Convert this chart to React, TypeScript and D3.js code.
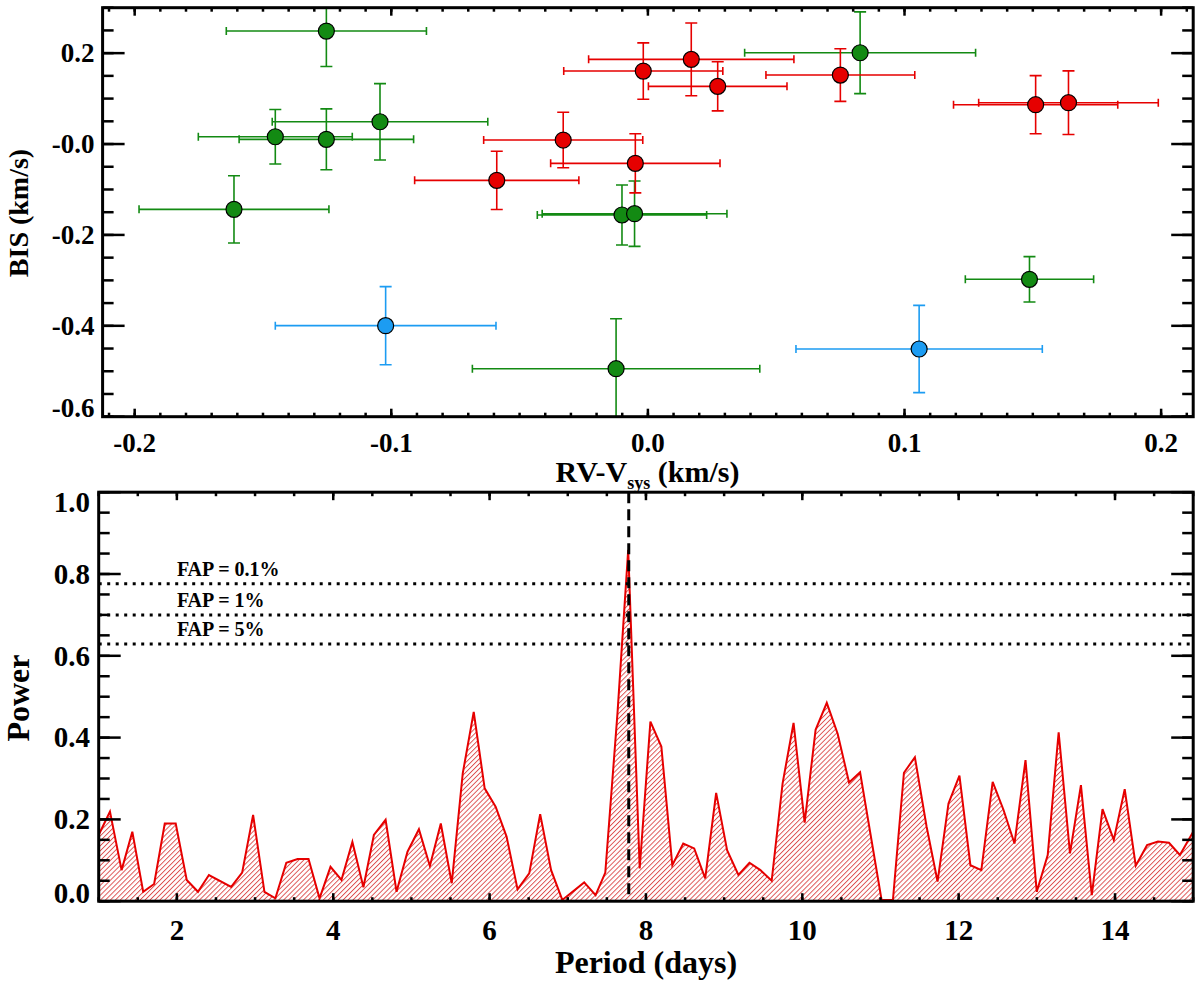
import * as d3 from "d3";
import { useEffect, useRef } from "react";

// BIS vs RV scatter, three observing groups
const GREEN_RV = [-0.1253, -0.1452, -0.1253, -0.1044, -0.1613, 0.0827, -0.0101, -0.0052, 0.1487, -0.0124];
const GREEN_RV_ERR = [0.039, 0.030, 0.034, 0.042, 0.037, 0.045, 0.033, 0.036, 0.025, 0.056];
const GREEN_BIS = [0.2486, 0.016, 0.0103, 0.049, -0.1437, 0.2009, -0.1562, -0.1533, -0.2977, -0.4944];
const GREEN_BIS_ERR = [0.078, 0.060, 0.067, 0.084, 0.074, 0.090, 0.066, 0.072, 0.050, 0.110];

const RED_RV = [-0.0589, -0.033, -0.0049, -0.0018, 0.0169, 0.0272, 0.075, 0.1511, 0.1639];
const RED_RV_ERR = [0.032, 0.031, 0.033, 0.031, 0.040, 0.027, 0.029, 0.032, 0.035];
const RED_BIS = [-0.0799, 0.0088, -0.0425, 0.1606, 0.1863, 0.1269, 0.1518, 0.0865, 0.0909];
const RED_BIS_ERR = [0.064, 0.061, 0.065, 0.062, 0.080, 0.054, 0.058, 0.064, 0.070];

const BLUE_RV = [-0.1022, 0.1057];
const BLUE_RV_ERR = [0.043, 0.048];
const BLUE_BIS = [-0.3997, -0.451];
const BLUE_BIS_ERR = [0.086, 0.096];

// periodogram
const PERIOD = [
  1.0, 1.144, 1.293, 1.43, 1.569, 1.709, 1.845, 1.985, 2.126, 2.27, 2.41, 2.695, 2.835, 2.975, 3.12,
  3.26, 3.4, 3.544, 3.684, 3.825, 3.965, 4.105, 4.245, 4.386, 4.52, 4.67, 4.81, 4.95, 5.096, 5.236,
  5.376, 5.516, 5.657, 5.797, 5.937, 6.077, 6.217, 6.358, 6.507, 6.647, 6.787, 6.93, 7.21, 7.356, 7.48,
  7.636, 7.773, 7.92, 8.057, 8.197, 8.337, 8.477, 8.617, 8.758, 8.898, 9.038, 9.183, 9.324, 9.464, 9.608,
  9.748, 9.888, 10.03, 10.17, 10.313, 10.453, 10.598, 10.739, 11.014, 11.159, 11.3, 11.44, 11.59, 11.73,
  11.87, 12.01, 12.15, 12.29, 12.435, 12.574, 12.714, 12.855, 12.999, 13.139, 13.279, 13.424, 13.564,
  13.703, 13.84, 13.984, 14.124, 14.265, 14.41, 14.55, 14.69, 14.83, 15.0,
];
const POWER = [
  0.162, 0.219, 0.076, 0.17, 0.023, 0.042, 0.19, 0.19, 0.052, 0.023, 0.064, 0.035, 0.07, 0.211, 0.023,
  0.007, 0.094, 0.103, 0.103, 0.007, 0.084, 0.052, 0.145, 0.034, 0.162, 0.199, 0.023, 0.121, 0.176, 0.086,
  0.19, 0.044, 0.313, 0.463, 0.276, 0.231, 0.158, 0.029, 0.068, 0.213, 0.076, 0.003, 0.046, 0.015, 0.07,
  0.46, 0.859, 0.08, 0.439, 0.378, 0.088, 0.141, 0.129, 0.056, 0.265, 0.125, 0.064, 0.094, 0.076, 0.05,
  0.288, 0.436, 0.192, 0.419, 0.485, 0.409, 0.29, 0.315, 0.003, 0.003, 0.314, 0.352, 0.182, 0.048,
  0.239, 0.307, 0.088, 0.076, 0.292, 0.223, 0.141, 0.345, 0.023, 0.113, 0.413, 0.117, 0.284,
  0.015, 0.225, 0.15, 0.274, 0.087, 0.137, 0.146, 0.143, 0.113, 0.17,
];
const FAP_LEVELS = [0.776, 0.7, 0.629];
const FAP_LABELS = ["FAP = 0.1%", "FAP = 1%", "FAP = 5%"];
const FAP_LABEL_PERIOD = 2.0;
const PEAK_PERIOD = 7.78;

// axes
const RV_TICKS = [-0.2, -0.1, 0.0, 0.1, 0.2];
const RV_LABELS = ["-0.2", "-0.1", "0.0", "0.1", "0.2"];
const BIS_TICKS = [0.2, 0.0, -0.2, -0.4, -0.6];
const BIS_LABELS = ["0.2", "-0.0", "-0.2", "-0.4", "-0.6"];
const PERIOD_TICKS = [2, 4, 6, 8, 10, 12, 14];
const POWER_TICKS = [0.0, 0.2, 0.4, 0.6, 0.8, 1.0];
const POWER_LABELS = ["0.0", "0.2", "0.4", "0.6", "0.8", "1.0"];

const FONT = "'Liberation Serif', 'Times New Roman', serif";

type Pt = { x: number; xe: number; y: number; ye: number };
const zip = (x: number[], xe: number[], y: number[], ye: number[]): Pt[] =>
  x.map((v, i) => ({ x: v, xe: xe[i], y: y[i], ye: ye[i] }));

function frame(g: any, x: any, y: any, xMajor: number[], xMinor: number[], yMajor: number[], yMinor: number[]) {
  const [x0, x1] = x.range();
  const [y0, y1] = y.range(); // bottom, top
  const t = g.append("g").attr("stroke", "#000").attr("stroke-width", 2.5);
  const xt = [...xMinor.map((v) => ({ v, l: 4 })), ...xMajor.map((v) => ({ v, l: 8 }))];
  const yt = [...yMinor.map((v) => ({ v, l: 11 })), ...yMajor.map((v) => ({ v, l: 22 }))];
  t.selectAll(null).data(xt).join("line")
    .attr("x1", (d: any) => x(d.v)).attr("x2", (d: any) => x(d.v))
    .attr("y1", y0).attr("y2", (d: any) => y0 - d.l);
  t.selectAll(null).data(xt).join("line")
    .attr("x1", (d: any) => x(d.v)).attr("x2", (d: any) => x(d.v))
    .attr("y1", y1).attr("y2", (d: any) => y1 + d.l);
  t.selectAll(null).data(yt).join("line")
    .attr("y1", (d: any) => y(d.v)).attr("y2", (d: any) => y(d.v))
    .attr("x1", x0).attr("x2", (d: any) => x0 + d.l);
  t.selectAll(null).data(yt).join("line")
    .attr("y1", (d: any) => y(d.v)).attr("y2", (d: any) => y(d.v))
    .attr("x1", x1).attr("x2", (d: any) => x1 - d.l);
  g.append("rect")
    .attr("x", x0).attr("y", y1).attr("width", x1 - x0).attr("height", y0 - y1)
    .attr("fill", "none").attr("stroke", "#000").attr("stroke-width", 3);
}

export default function App() {
  const ref = useRef<SVGSVGElement | null>(null);
  useEffect(() => {
    if (!ref.current) return;
    const svg = d3.select(ref.current);
    svg.selectAll("*").remove();
    const defs = svg.append("defs");

    // ---------- top panel: BIS vs RV ----------
    const xT = d3.scaleLinear().domain([-0.2125, 0.2125]).range([102.6, 1193.2]);
    const yT = d3.scaleLinear().domain([-0.6, 0.3]).range([416.7, 7.7]);
    defs.append("clipPath").attr("id", "clipTop").append("rect")
      .attr("x", 102.6).attr("y", 7.7).attr("width", 1193.2 - 102.6).attr("height", 409);

    const top = svg.append("g");
    const series = [
      { pts: zip(GREEN_RV, GREEN_RV_ERR, GREEN_BIS, GREEN_BIS_ERR), color: "#138a13" },
      { pts: zip(RED_RV, RED_RV_ERR, RED_BIS, RED_BIS_ERR), color: "#e60000" },
      { pts: zip(BLUE_RV, BLUE_RV_ERR, BLUE_BIS, BLUE_BIS_ERR), color: "#1c9cf2" },
    ];
    const eb = top.append("g").attr("clip-path", "url(#clipTop)").attr("stroke-width", 1.6).attr("fill", "none");
    for (const s of series) {
      const g = eb.append("g").attr("stroke", s.color);
      const path = d3.path();
      for (const p of s.pts) {
        const cx = xT(p.x), cy = yT(p.y);
        const xl = xT(p.x - p.xe), xr = xT(p.x + p.xe);
        const yt = yT(p.y + p.ye), yb = yT(p.y - p.ye);
        path.moveTo(xl, cy); path.lineTo(xr, cy);
        path.moveTo(xl, cy - 4); path.lineTo(xl, cy + 4);
        path.moveTo(xr, cy - 4); path.lineTo(xr, cy + 4);
        path.moveTo(cx, yt); path.lineTo(cx, yb);
        path.moveTo(cx - 6, yt); path.lineTo(cx + 6, yt);
        path.moveTo(cx - 6, yb); path.lineTo(cx + 6, yb);
      }
      g.append("path").attr("d", path.toString());
    }
    for (const s of series) {
      top.append("g").selectAll("circle").data(s.pts).join("circle")
        .attr("cx", (d) => xT(d.x)).attr("cy", (d) => yT(d.y)).attr("r", 8)
        .attr("fill", s.color).attr("stroke", "#000").attr("stroke-width", 1.2);
    }
    frame(top, xT, yT, RV_TICKS, xT.ticks(40), BIS_TICKS, yT.ticks(18));

    const lblT = top.append("g").attr("font-family", FONT).attr("font-weight", "bold").attr("fill", "#000");
    lblT.selectAll(null).data(RV_TICKS).join("text")
      .attr("x", (d) => xT(d)).attr("y", 452).attr("text-anchor", "middle").attr("font-size", 27)
      .text((d, i) => RV_LABELS[i]);
    lblT.selectAll(null).data(BIS_TICKS).join("text")
      .attr("x", 94.5).attr("y", (d) => Math.min(Math.max(yT(d), 20), 407.5)).attr("dy", "0.34em")
      .attr("text-anchor", "end").attr("font-size", 27)
      .text((d, i) => BIS_LABELS[i]);
    const xTitle = lblT.append("text").attr("x", 647.5).attr("y", 481.7).attr("text-anchor", "middle").attr("font-size", 30);
    xTitle.append("tspan").text("RV-V");
    xTitle.append("tspan").attr("font-size", 18).attr("dy", 7).text("sys");
    xTitle.append("tspan").attr("dy", -7).text(" (km/s)");
    lblT.append("text").attr("transform", "translate(28,213) rotate(-90)")
      .attr("text-anchor", "middle").attr("font-size", 28).text("BIS (km/s)");

    // ---------- bottom panel: periodogram ----------
    const xB = d3.scaleLinear().domain([1, 15]).range([98.7, 1193.2]);
    const yB = d3.scaleLinear().domain([0, 1]).range([901.2, 492.2]);
    defs.append("clipPath").attr("id", "clipBot").append("rect")
      .attr("x", 98.7).attr("y", 492.2).attr("width", 1193.2 - 98.7).attr("height", 409);
    const pat = defs.append("pattern").attr("id", "hatch").attr("patternUnits", "userSpaceOnUse")
      .attr("width", 3.5).attr("height", 3.5).attr("patternTransform", "rotate(45)");
    pat.append("line").attr("x1", 0.5).attr("x2", 0.5).attr("y1", 0).attr("y2", 3.5)
      .attr("stroke", "#d63030").attr("stroke-width", 0.8);

    const bot = svg.append("g");
    const pg = PERIOD.map((p, i) => ({ p, v: POWER[i] }));
    const plot = bot.append("g").attr("clip-path", "url(#clipBot)");
    plot.append("path").datum(pg)
      .attr("d", d3.area<{ p: number; v: number }>().x((d) => xB(d.p)).y0(yB(0)).y1((d) => yB(d.v)) as any)
      .attr("fill", "url(#hatch)");
    plot.append("path").datum(pg)
      .attr("d", d3.line<{ p: number; v: number }>().x((d) => xB(d.p)).y((d) => yB(d.v)) as any)
      .attr("fill", "none").attr("stroke", "#e60000").attr("stroke-width", 2);
    plot.selectAll(null).data(FAP_LEVELS).join("line")
      .attr("x1", 98.7).attr("x2", 1193.2).attr("y1", (d) => yB(d)).attr("y2", (d) => yB(d))
      .attr("stroke", "#000").attr("stroke-width", 3).attr("stroke-dasharray", "3 5.5");
    plot.append("line")
      .attr("x1", xB(PEAK_PERIOD)).attr("x2", xB(PEAK_PERIOD)).attr("y1", yB(1)).attr("y2", yB(0))
      .attr("stroke", "#000").attr("stroke-width", 3).attr("stroke-dasharray", "11 6");

    frame(bot, xB, yB, PERIOD_TICKS, xB.ticks(28), POWER_TICKS, yB.ticks(20));

    const lblB = bot.append("g").attr("font-family", FONT).attr("font-weight", "bold").attr("fill", "#000");
    lblB.selectAll(null).data(FAP_LEVELS).join("text")
      .attr("x", xB(FAP_LABEL_PERIOD)).attr("y", (d) => yB(d) - 8).attr("font-size", 20)
      .text((d, i) => FAP_LABELS[i]);
    lblB.selectAll(null).data(PERIOD_TICKS).join("text")
      .attr("x", (d) => xB(d)).attr("y", 940).attr("text-anchor", "middle").attr("font-size", 29)
      .text((d) => String(d));
    lblB.selectAll(null).data(POWER_TICKS).join("text")
      .attr("x", 90).attr("y", (d) => Math.min(Math.max(yB(d), 502), 893)).attr("dy", "0.34em")
      .attr("text-anchor", "end").attr("font-size", 29)
      .text((d, i) => POWER_LABELS[i]);
    lblB.append("text").attr("x", 646).attr("y", 973).attr("text-anchor", "middle").attr("font-size", 32)
      .text("Period (days)");
    lblB.append("text").attr("transform", "translate(29,698) rotate(-90)")
      .attr("text-anchor", "middle").attr("font-size", 32).text("Power");
  }, []);
  return (
    <svg
      ref={ref}
      width={1200}
      height={986}
      style={{ position: "absolute", left: 0, top: 0, background: "#fff" }}
    />
  );
}
